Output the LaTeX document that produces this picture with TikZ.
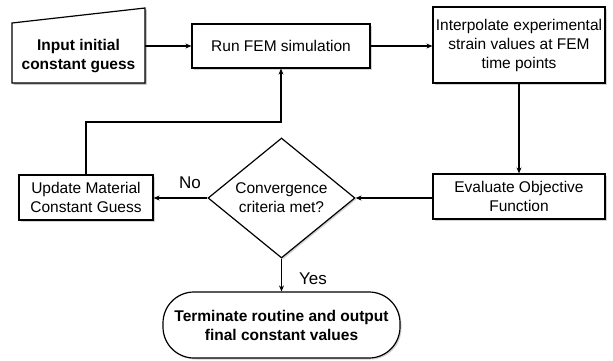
\documentclass[tikz,border=0pt]{standalone}
\usepackage{fontspec}
\setmainfont{Liberation Sans}
\usetikzlibrary{arrows.meta,shapes.geometric,shadows}
\begin{document}
\begin{tikzpicture}[x=1pt,y=-1pt,
  every node/.style={font=\fontsize{15.5}{19}\selectfont},
  procbox/.style={draw,line width=1.2pt,fill=white,align=center,inner sep=0pt,
    drop shadow={shadow xshift=1.5pt,shadow yshift=-1.5pt,opacity=0.35}},
  conn/.style={line width=1.2pt,-{Stealth[length=6pt,width=5pt]}},
  lbl/.style={font=\fontsize{17}{20}\selectfont}]
\useasboundingbox (0,0) rectangle (613,360);
% input (manual input shape)
\fill[black!35] (13.5,24.5) -- (146.5,9.5) -- (146.5,84.5) -- (13.5,84.5) -- cycle;
\draw[line width=1.2pt,fill=white] (12,23) -- (145,8) -- (145,83) -- (12,83) -- cycle;
\node[inner sep=0pt,minimum width=133pt,minimum height=60pt,align=center,font=\fontsize{15.5}{19}\selectfont\bfseries] (input) at (78.5,56) {Input initial\\constant guess};
% boxes
\node[procbox,minimum width=178pt,minimum height=44pt] (run) at (281,46) {Run FEM simulation};
\node[procbox,minimum width=172pt,minimum height=76pt] (interp) at (519,45) {Interpolate experimental\\strain values at FEM\\time points};
\node[procbox,minimum width=172pt,minimum height=45pt] (eval) at (519,196.5) {Evaluate Objective\\Function};
\node[procbox,minimum width=134pt,minimum height=45pt] (upd) at (86,197.5) {Update Material\\Constant Guess};
\node[diamond,draw,line width=1.2pt,fill=white,inner sep=0pt,minimum width=147pt,minimum height=120pt,
  drop shadow={shadow xshift=1.5pt,shadow yshift=-1.5pt,opacity=0.35}] (conv) at (281.5,198) {};
\node[align=center] (convtxt) at (conv) {Convergence\\criteria met?};
\node[procbox,rounded corners=31pt,minimum width=237pt,minimum height=66pt,font=\fontsize{15.5}{19}\selectfont\bfseries] (term) at (281.5,325) {Terminate routine and output\\final constant values};
% connectors
\draw[conn] (input.east |- run.west) -- (run.west);
\draw[conn] (run.east) -- (interp.west |- run.east);
\draw[conn] (interp.south -| eval.north) -- (eval.north);
\draw[conn] (eval.west |- conv.east) -- (conv.east);
\draw[conn] (conv.west) -- (upd.east |- conv.west);
\draw[conn] (conv.south) -- (term.north);
\coordinate (bend) at (86,122);
\draw[conn] (upd.north) -- (bend) -| (run.south);
% labels
\node[lbl] (no) at (190,183) {No};
\node[lbl] (yes) at (313,279) {Yes};
\end{tikzpicture}
\end{document}
